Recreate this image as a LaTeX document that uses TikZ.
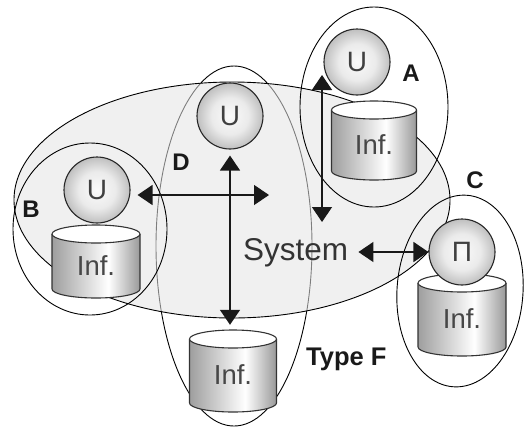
\documentclass[tikz,border=0pt]{standalone}
\usepackage{fontspec}
\setmainfont{Liberation Sans}
\usetikzlibrary{arrows.meta}

% horizontal shading of a cylinder body: grey edges, bright band right of centre
\pgfdeclarehorizontalshading{cylbody}{100bp}{%
  color(0bp)=(black!38); color(25bp)=(black!38); color(57bp)=(white);
  color(75bp)=(black!40); color(100bp)=(black!40)}
% ball shading of the actor circles
\pgfdeclareradialshading{ballsh}{\pgfpointorigin}{%
  color(0bp)=(black!2); color(14bp)=(black!8); color(25bp)=(black!25); color(50bp)=(black!25)}

\tikzset{
  outline/.style={draw=black, line width=0.9pt},
  actor/.style={circle, draw=black!85, line width=1.1pt, minimum size=66pt, inner sep=0pt,
    shading=ballsh, font=\fontsize{28}{28}\selectfont, text=black!75},
  cylshape/.style={shading=cylbody, draw=black!80, line width=1.1pt},
  cyltop/.style={fill=white, draw=black!80, line width=1.1pt},
  inftext/.style={font=\fontsize{27.5}{28}\selectfont, text=black!72, inner sep=0pt},
  grouplabel/.style={font=\bfseries\fontsize{24}{24}\selectfont, text=black!90, inner sep=0pt},
  biarrow/.style={{Triangle[length=15pt,width=20pt]}-{Triangle[length=15pt,width=20pt]},
    line width=1.4pt, draw=black!90},
}

% database cylinder: name, centre x, top rim y, bottom rim y, half width
\newcommand\infcyl[5]{%
  \path[cylshape] (#2-#5,#3) -- (#2-#5,#4)
    arc[start angle=180, end angle=360, x radius=#5pt, y radius=9pt] -- (#2+#5,#3);
  \draw[cyltop] (#2,#3) ellipse [x radius=#5pt, y radius=9pt];
  \node[inner sep=0pt, minimum width=2*#5pt, minimum height={#4pt-#3pt+18pt}] (#1) at (#2,{(#3+#4)/2}) {};
  \node[inftext] (#1-t) at (#2,{(#3+#4)/2+4}) {Inf.};
}

\begin{document}
\begin{tikzpicture}[x=1pt, y=-1pt]
  \useasboundingbox (0,0) rectangle (524,429);
  \fill[white] (0,0) rectangle (524,429);

  % type F grouping, partly seen through the system area
  \draw[outline] (234,246) ellipse [x radius=78pt, y radius=180pt];

  % the system area
  \fill[black!10, fill opacity=0.55] (232,200) ellipse [x radius=218pt, y radius=118pt];
  \draw[outline] (232,200) ellipse [x radius=218pt, y radius=118pt];

  % groupings A, B, C
  \draw[outline] (374,107) ellipse [x radius=74pt, y radius=100pt];
  \draw[outline] (90,229) ellipse [x radius=77pt, y radius=86pt];
  \draw[outline, rotate around={-4:(460,291)}] (460,291) ellipse [x radius=63pt, y radius=96pt];

  % information stores
  \infcyl{cylA}{374}{110}{171}{42.5}
  \infcyl{cylB}{96}{234}{289}{44}
  \infcyl{cylC}{462}{283}{347}{44}
  \infcyl{cylD}{233}{339}{403}{43.5}

  % actors
  \node[actor] (uA) at (357,62) {U};
  \node[actor] (uD) at (230,116) {U};
  \node[actor] (uB) at (97,190) {U};
  \node[actor] (uC) at (462,252) {Π};

  % texts
  \node[font=\fontsize{31.5}{32}\selectfont, text=black!80, inner sep=0pt, anchor=base west]
    (sys) at (243,260) {System};
  \node[grouplabel] (lblA) at (411,73) {A};
  \node[grouplabel] (lblB) at (31,209) {B};
  \node[grouplabel] (lblC) at (475,180) {C};
  \node[grouplabel] (lblD) at (181,162) {D};
  \node[grouplabel, font=\bfseries\fontsize{25.5}{26}\selectfont, anchor=base west]
    (lblF) at (306,365) {Type F};

  % interactions
  \coordinate (aTop) at (322,75);
  \coordinate (aBot) at (322,222);
  \coordinate (hEnd) at (269,195);
  \draw[biarrow] (aTop) -- (aBot);
  \draw[biarrow, shorten <=6pt, shorten >=5pt] (uD.south) -- (uD.south |- cylD.north);
  \draw[biarrow, shorten <=7pt] (hEnd -| uB.east) -- (hEnd);
  \draw[biarrow, shorten <=10pt] (sys.east |- uC.west) -- (uC.west);
\end{tikzpicture}
\end{document}
